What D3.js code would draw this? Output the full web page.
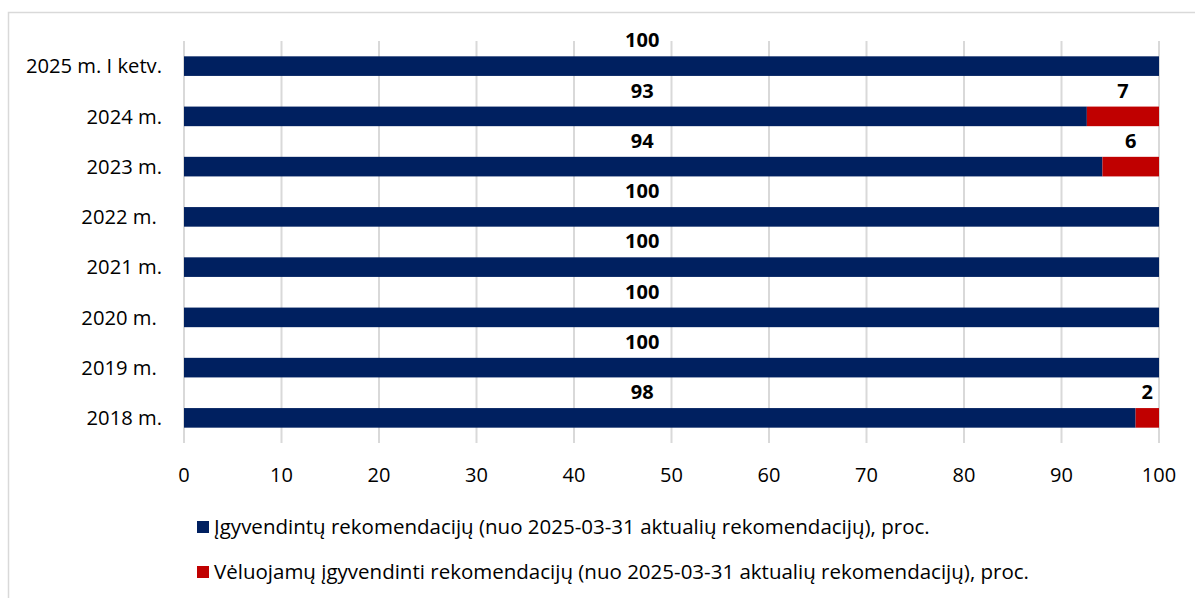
<!DOCTYPE html>
<html>
<head>
<meta charset="utf-8">
<script src="https://cdn.jsdelivr.net/npm/d3@7"></script>
<style>
  html, body { margin: 0; padding: 0; background: #fff; }
  svg text { font-family: "Open Sans", "Noto Sans", sans-serif; fill: #000; white-space: pre; }
</style>
</head>
<body>
<svg id="chart" width="1195" height="598"></svg>
<script>
// ---- data ----
const categories = ["2025 m. I ketv.", "2024 m.", "2023 m.", "2022 m. ", "2021 m.", "2020 m. ", "2019 m. ", "2018 m."];
const implemented = [100, 92.6, 94.2, 100, 100, 100, 100, 97.6];
const delayed = [0, 7.4, 5.8, 0, 0, 0, 0, 2.4];
const xTicks = [0, 10, 20, 30, 40, 50, 60, 70, 80, 90, 100];
const seriesNames = [
  "Įgyvendintų rekomendacijų (nuo 2025-03-31 aktualių rekomendacijų), proc.",
  "Vėluojamų įgyvendinti rekomendacijų (nuo 2025-03-31 aktualių rekomendacijų), proc."
];
const colors = ["#002060", "#C00000"];

// ---- layout ----
const svg = d3.select("#chart");
const plot = { left: 184, right: 1159, top: 41, bottom: 443 };

// frame
svg.append("rect")
  .attr("x", 8.5).attr("y", 12.5)
  .attr("width", 1200).attr("height", 600)
  .attr("fill", "none").attr("stroke", "#d9d9d9").attr("stroke-width", 1.5);

const x = d3.scaleLinear().domain([0, 100]).range([plot.left, plot.right]);
const y = d3.scaleBand().domain(categories).range([plot.top, plot.bottom])
  .paddingInner(0.61).paddingOuter(0.305);

// gridlines
svg.append("g").selectAll("line").data(xTicks).join("line")
  .attr("x1", d => x(d)).attr("x2", d => x(d))
  .attr("y1", plot.top).attr("y2", plot.bottom)
  .attr("stroke", "#d9d9d9").attr("stroke-width", 2);

// x tick labels
svg.append("g").selectAll("text").data(xTicks).join("text")
  .attr("x", d => x(d)).attr("y", 482)
  .attr("text-anchor", "middle")
  .style("font-size", "20px")
  .text(d => d);

// category labels
svg.append("g").selectAll("text").data(categories).join("text")
  .attr("x", 162).attr("y", d => y(d) + y.bandwidth() / 2)
  .attr("dy", "0.36em")
  .attr("text-anchor", "end")
  .style("font-size", "20.2px")
  .text(d => d);

const rows = categories.map((c, i) => ({ c, a: implemented[i], b: delayed[i] }));

// bars
const bars = svg.append("g");
bars.selectAll("rect.a").data(rows).join("rect").attr("class", "a")
  .attr("x", x(0)).attr("y", d => y(d.c))
  .attr("width", d => x(d.a) - x(0)).attr("height", y.bandwidth())
  .attr("fill", colors[0]);
bars.selectAll("rect.b").data(rows.filter(d => d.b > 0)).join("rect").attr("class", "b")
  .attr("x", d => x(d.a)).attr("y", d => y(d.c))
  .attr("width", d => x(d.a + d.b) - x(d.a)).attr("height", y.bandwidth())
  .attr("fill", colors[1]);

// data labels
const fmt = d3.format(".0f");
svg.append("g").selectAll("text").data(rows).join("text")
  .attr("x", x(47)).attr("y", d => y(d.c) - 9)
  .attr("text-anchor", "middle")
  .style("font-size", "20px").style("font-weight", "bold")
  .text(d => fmt(d.a));
svg.append("g").selectAll("text").data(rows.filter(d => d.b > 0)).join("text")
  .attr("x", d => x(d.a + d.b / 2)).attr("y", d => y(d.c) - 9)
  .attr("text-anchor", "middle")
  .style("font-size", "20px").style("font-weight", "bold")
  .text(d => fmt(d.b));

// legend
const legend = svg.append("g").selectAll("g").data(seriesNames).join("g")
  .attr("transform", (d, i) => `translate(197, ${527 + i * 45})`);
legend.append("rect")
  .attr("x", 0).attr("y", -6).attr("width", 12).attr("height", 12)
  .attr("fill", (d, i) => colors[i]);
legend.append("text")
  .attr("x", 17).attr("y", 0).attr("dy", "0.36em")
  .style("font-size", "20.5px")
  .text(d => d);
</script>
</body>
</html>
